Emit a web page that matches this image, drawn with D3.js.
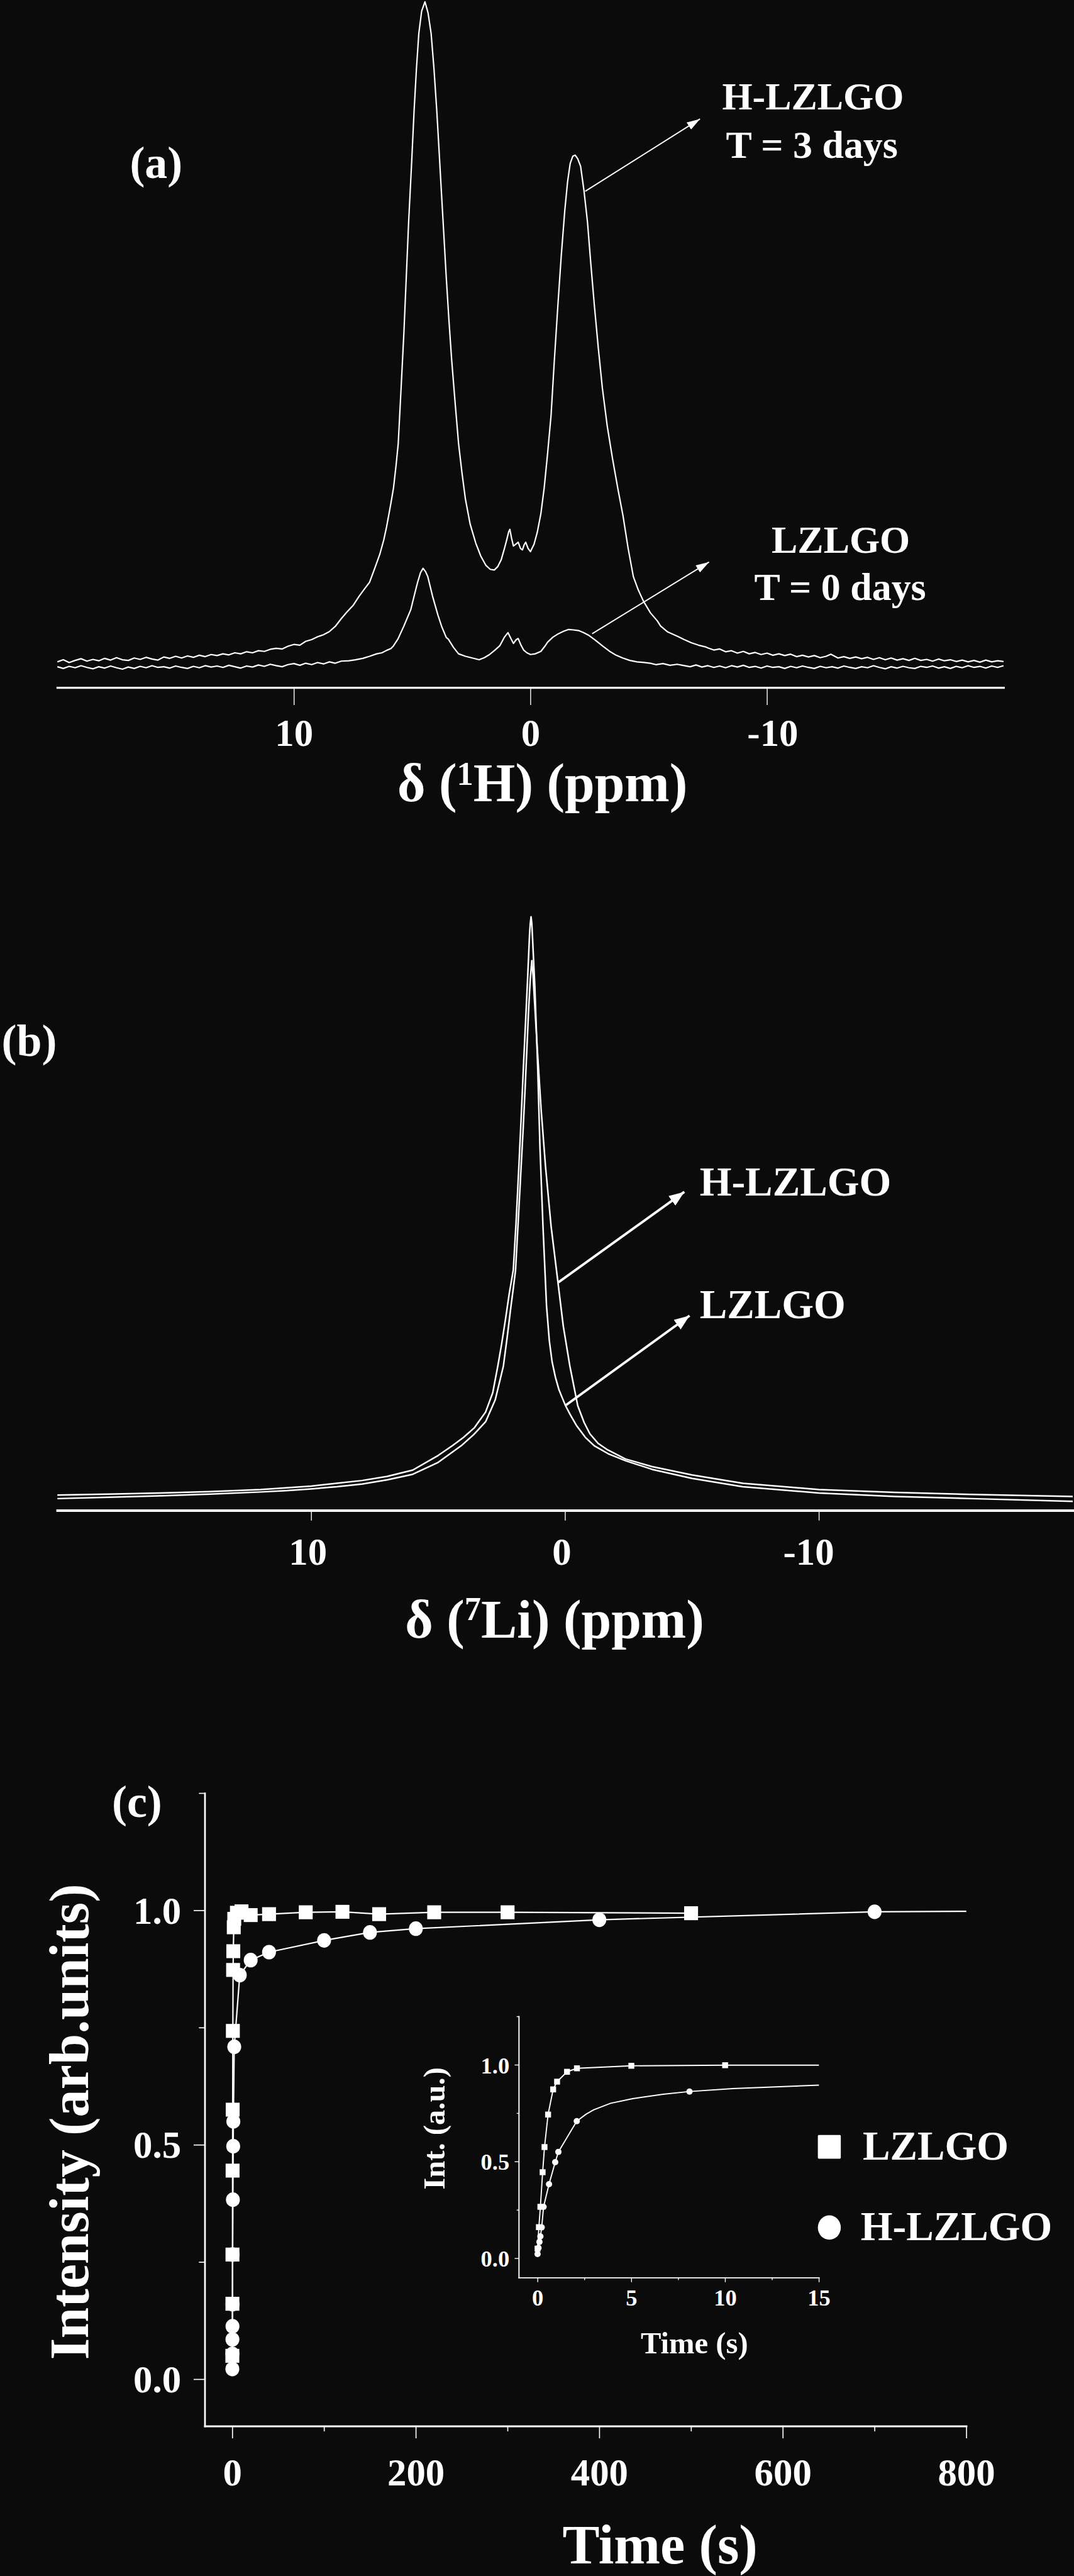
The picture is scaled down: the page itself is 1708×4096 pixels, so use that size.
<!DOCTYPE html>
<html><head><meta charset="utf-8">
<script src="https://cdn.jsdelivr.net/npm/d3@7"></script>
<style>body{margin:0;background:#0b0b0b}svg{display:block}</style>
</head><body>
<script>
// ---------- DATA ----------
// Panel (a): 1H MAS NMR, [ppm, intensity (a.u.)]
const specA_H = [
[20,74],[19.75,80],[19.5,72],[19.25,78],[19,83],[18.75,76],[18.5,81],[18.25,77],[18,84],[17.75,79],[17.5,86],[17.25,80],[17,78],[16.75,85],[16.5,81],[16.25,87],[16,82],[15.75,79],[15.5,88],[15.25,84],[15,90],[14.75,85],[14.5,91],[14.25,87],[14,93],[13.75,89],[13.5,95],[13.25,92],[13,97],[12.75,94],[12.5,100],[12.25,97],[12,103],[11.75,100],[11.5,106],[11.25,104],[11,110],[10.75,113],[10.5,111],[10.25,119],[10,124],[9.75,122],[9.5,133],[9.25,138],[9,146],[8.75,152],[8.5,161],[8.25,176],[8,198],[7.75,218],[7.5,236],[7.25,262],[7,285],[6.8,303],[6.6,340],[6.37,383],[6.2,425],[6.08,463],[5.9,530],[5.79,574],[5.68,640],[5.59,702],[5.47,860],[5.35,1021],[5.25,1180],[5.15,1339],[5.03,1500],[4.92,1658],[4.82,1780],[4.72,1881],[4.6,1945],[4.46,1972],[4.33,1940],[4.2,1881],[4.08,1780],[3.96,1658],[3.86,1540],[3.76,1419],[3.66,1300],[3.56,1180],[3.45,1060],[3.33,941],[3.18,815],[3.04,702],[2.9,620],[2.75,542],[2.55,470],[2.31,415],[2.1,378],[1.88,351],[1.7,340],[1.53,338],[1.38,348],[1.24,367],[1.1,400],[1.01,423],[0.92,448],[0.87,455],[0.8,430],[0.72,407],[0.62,412],[0.52,418],[0.42,400],[0.34,396],[0.27,410],[0.2,418],[0.1,400],[0,391],[-0.15,412],[-0.29,447],[-0.44,500],[-0.58,574],[-0.72,670],[-0.87,782],[-1,930],[-1.16,1100],[-1.3,1240],[-1.45,1371],[-1.57,1455],[-1.68,1507],[-1.79,1528],[-1.89,1531],[-2,1520],[-2.12,1499],[-2.26,1430],[-2.41,1339],[-2.55,1220],[-2.7,1100],[-2.87,975],[-3.04,861],[-3.25,750],[-3.48,654],[-3.7,570],[-3.91,495],[-4.13,400],[-4.35,319],[-4.55,282],[-4.78,248],[-5.07,215],[-5.36,192],[-5.5,177],[-5.8,160],[-6.23,147],[-6.5,138],[-6.8,129],[-7.1,122],[-7.4,117],[-7.5,114],[-7.75,108],[-8,111],[-8.25,103],[-8.5,106],[-8.75,99],[-9,104],[-9.25,97],[-9.5,101],[-9.75,95],[-10,99],[-10.25,93],[-10.5,97],[-10.75,92],[-11,96],[-11.25,89],[-11.5,93],[-11.75,88],[-12,92],[-12.25,86],[-12.5,90],[-12.7,96],[-13,85],[-13.25,89],[-13.5,84],[-13.75,88],[-14,83],[-14.25,87],[-14.5,81],[-14.75,86],[-15,80],[-15.25,85],[-15.5,79],[-15.75,83],[-16,78],[-16.25,84],[-16.5,78],[-16.75,81],[-17,76],[-17.25,82],[-17.5,77],[-17.75,80],[-18,75],[-18.25,79],[-18.5,74],[-18.75,78],[-19,73],[-19.25,79],[-19.5,74],[-19.75,77],[-20,75]];
const specA_L = [
[20,60],[19.75,55],[19.5,61],[19.25,57],[19,63],[18.75,58],[18.5,54],[18.25,60],[18,56],[17.75,62],[17.5,57],[17.25,53],[17,59],[16.75,55],[16.5,61],[16.25,57],[16,63],[15.75,58],[15.5,60],[15.25,56],[15,62],[14.75,58],[14.5,55],[14.25,61],[14,57],[13.75,63],[13.5,59],[13.25,62],[13,58],[12.75,64],[12.5,60],[12.25,56],[12,62],[11.75,59],[11.5,65],[11.25,61],[11,67],[10.75,63],[10.5,60],[10.25,66],[10,69],[9.75,64],[9.5,70],[9.25,66],[9,72],[8.75,68],[8.5,74],[8.25,70],[8,76],[7.67,77],[7.4,80],[7.09,84],[6.8,90],[6.5,97],[6.28,100],[6.08,107],[5.9,112],[5.79,120],[5.6,140],[5.35,177],[5.06,224],[4.9,268],[4.77,303],[4.65,330],[4.54,343],[4.44,334],[4.34,319],[4.14,263],[3.91,208],[3.75,175],[3.56,144],[3.47,139],[3.25,115],[3.04,97],[2.75,90],[2.46,85],[2.17,80],[1.95,86],[1.73,95],[1.5,108],[1.3,120],[1.1,145],[0.95,158],[0.82,140],[0.72,127],[0.6,138],[0.52,141],[0.4,122],[0.29,108],[0.15,100],[0,95],[-0.2,97],[-0.44,104],[-0.6,118],[-0.73,131],[-0.95,145],[-1.16,154],[-1.4,162],[-1.6,167],[-1.8,166],[-2.03,164],[-2.25,158],[-2.47,150],[-2.75,136],[-3.04,120],[-3.33,105],[-3.62,93],[-3.9,85],[-4.2,78],[-4.5,74],[-4.8,72],[-5.07,70],[-5.3,66],[-5.6,69],[-5.9,64],[-6.2,67],[-6.5,63],[-6.75,60],[-7,65],[-7.25,59],[-7.5,63],[-7.75,58],[-8,62],[-8.25,57],[-8.5,63],[-8.75,59],[-9,64],[-9.25,58],[-9.5,61],[-9.75,56],[-10,62],[-10.25,58],[-10.5,60],[-10.75,55],[-11,61],[-11.25,57],[-11.5,62],[-11.75,58],[-12,55],[-12.25,61],[-12.5,57],[-12.75,60],[-13,56],[-13.25,62],[-13.5,58],[-13.75,55],[-14,60],[-14.25,57],[-14.5,63],[-14.75,58],[-15,54],[-15.25,60],[-15.5,56],[-15.75,61],[-16,57],[-16.25,55],[-16.5,61],[-16.75,58],[-17,62],[-17.25,56],[-17.5,60],[-17.75,55],[-18,61],[-18.25,57],[-18.5,63],[-18.75,58],[-19,61],[-19.25,56],[-19.5,62],[-19.75,58],[-20,63]];
// Panel (b): 7Li MAS NMR, [ppm, intensity (a.u.)]
const specB_L = [
[20,46],[18,49],[16,52],[14,56],[12,62],[11,67],[10,72],[9,80],[8,88],[7,100],[6,118],[5,160],[4.44,188],[4,212],[3.57,240],[3.13,285],[2.85,340],[2.65,417],[2.5,480],[2.34,555],[2.2,625],[2.04,693],[1.93,830],[1.82,991],[1.73,1130],[1.64,1278],[1.56,1400],[1.49,1508],[1.44,1590],[1.4,1657],[1.37,1690],[1.34,1709],[1.31,1690],[1.28,1646],[1.19,1508],[1.08,1278],[0.99,1049],[0.87,819],[0.73,590],[0.62,490],[0.51,429],[0.38,385],[0.24,349],[0.1,324],[-0.02,303],[-0.2,278],[-0.46,245],[-0.8,212],[-1.15,188],[-1.7,165],[-2.38,145],[-3.43,120],[-5,94],[-7,70],[-10,52],[-13,42],[-16,36],[-20,28]];
const specB_H = [
[20,36],[18,40],[16,44],[14,49],[12,55],[11,59],[10,64],[9,70],[8,78],[7,90],[6,106],[5,140],[4.09,188],[3.6,220],[3.13,257],[2.75,320],[2.43,417],[2.28,500],[2.15,578],[2.04,640],[1.95,693],[1.84,840],[1.73,991],[1.65,1100],[1.57,1221],[1.5,1336],[1.43,1451],[1.37,1530],[1.31,1583],[1.26,1540],[1.21,1474],[1.08,1313],[0.94,1152],[0.77,991],[0.55,819],[0.29,664],[0.07,532],[-0.19,417],[-0.5,303],[-0.75,255],[-0.98,222],[-1.3,195],[-1.68,176],[-2.38,150],[-3.43,128],[-5,104],[-7,80],[-10,62],[-13,54],[-16,48],[-20,42]];
const ticksPPM = [10, 0, -10];
// Panel (c): saturation recovery
const tLZLGO = [0.0,0.07,0.15,0.27,0.37,0.56,0.83,1.04,1.57,2.1,5,10,20,40,80,120,160,220,300,500];
const vLZLGO = [0.05,0.161,0.266,0.445,0.575,0.743,0.873,0.913,0.964,0.982,0.995,0.998,0.99,0.992,0.996,0.997,0.992,0.996,0.996,0.994];
const tHLZLGO = [0.0,0.05,0.1,0.15,0.22,0.32,0.61,0.94,1.11,2.09,8.1,20,40,100,150,200,400,700];
const vHLZLGO = [0.022,0.054,0.085,0.113,0.16,0.266,0.383,0.497,0.55,0.709,0.862,0.894,0.911,0.936,0.953,0.961,0.98,0.997];
const fitHmainEnd = [[800, 0.998]];
const fitLinsetEnd = [[15, 0.998]];
const fitHinset = [[2.59,0.745],[3.0,0.768],[3.89,0.801],[5.07,0.825],[6.69,0.848],[8.1,0.862],[10.4,0.877],[15,0.895]];
const ticksTime = [0,200,400,600,800], minorTime = [100,300,500,700];
const ticksInt = [0,0.5,1], minorInt = [0.25,0.75,1.25];
const ticksTimeIn = [0,5,10,15], minorTimeIn = [2.5,7.5,12.5];
const legendNames = ["LZLGO","H-LZLGO"];

// ---------- DRAW ----------
const FONT = "'Liberation Serif','Times New Roman',Times,serif";
const WHITE = "#ffffff";
const svg = d3.select("body").append("svg").attr("width",1708).attr("height",4096);
svg.append("rect").attr("width",1708).attr("height",4096).attr("fill","#0b0b0b");
const defs = svg.append("defs");
function mk(id, len, wid){
  defs.append("marker").attr("id",id).attr("viewBox",`0 0 ${len} ${wid}`)
    .attr("refX",len).attr("refY",wid/2).attr("markerWidth",len).attr("markerHeight",wid)
    .attr("markerUnits","userSpaceOnUse").attr("orient","auto")
    .append("path").attr("d",`M0,0L${len},${wid/2}L0,${wid}Z`).attr("fill",WHITE);
}
const g = svg.append("g").attr("transform","scale(0.553)")
  .attr("font-family",FONT).attr("font-weight","bold").attr("fill",WHITE);

function txt(x,y,s,size,anchor){
  return g.append("text").attr("x",x).attr("y",y).attr("font-size",size)
    .attr("text-anchor",anchor||"middle").attr("fill",WHITE).text(s);
}
function styleAxis(ax, domW, tickW, fs){
  ax.attr("color",WHITE).attr("font-family",FONT).attr("font-weight","bold").attr("font-size",fs);
  ax.select(".domain").attr("stroke-width",domW).attr("stroke-linecap","square");
  ax.selectAll(".tick line").attr("stroke-width",tickW);
}
const path = (sel, data, x, y, w) => sel.append("path").datum(data)
  .attr("d", d3.line().x(d=>x(d[0])).y(d=>y(d[1])))
  .attr("fill","none").attr("stroke",WHITE).attr("stroke-width",w)
  .attr("stroke-linejoin","round");

// ---- Panel (a)
const xa = d3.scaleLinear().domain([20,-20]).range([165,2886]);
const ya = d3.scaleLinear().domain([0,1977]).range([1977,0]);
path(g, specA_L, xa, ya, 4);
path(g, specA_H, xa, ya, 4);
const axA = g.append("g").attr("transform","translate(0,1977)")
  .call(d3.axisBottom(xa).tickValues(ticksPPM).tickSize(50).tickSizeOuter(0).tickFormat(d=>String(d)));
styleAxis(axA, 6, 2.5, 110);
axA.selectAll(".tick text").attr("y",168).attr("dy",null).attr("dx",d=>d<0?16:0);
const la = txt(1560,2304,"",155);
la.append("tspan").text("δ (");
la.append("tspan").attr("font-size",95).attr("dy",-48).text("1");
la.append("tspan").attr("dy",48).text("H) (ppm)");
txt(449,511,"(a)",130);
txt(2338,315,"H-LZLGO",112); txt(2335,454,"T = 3 days",112);
txt(2418,1589,"LZLGO",112); txt(2416,1725,"T = 0 days",112);
mk("ha",38,24);
g.append("line").attr("x1",1683).attr("y1",550).attr("x2",2013).attr("y2",342)
  .attr("stroke",WHITE).attr("stroke-width",3.5).attr("marker-end","url(#ha)");
g.append("line").attr("x1",1703).attr("y1",1822).attr("x2",2039).attr("y2",1616)
  .attr("stroke",WHITE).attr("stroke-width",3.5).attr("marker-end","url(#ha)");

// ---- Panel (b)
const xb = d3.scaleLinear().domain([20,-20]).range([165,3085]);
const yb = d3.scaleLinear().domain([0,1845]).range([4345,2500]);
path(g, specB_L, xb, yb, 4.5);
path(g, specB_H, xb, yb, 4.5);
const axB = g.append("g").attr("transform","translate(0,4343)")
  .call(d3.axisBottom(xb).tickValues(ticksPPM).tickSize(29).tickSizeOuter(0).tickFormat(d=>String(d)));
styleAxis(axB, 7, 2.5, 110);
axB.selectAll(".tick text").attr("y",156).attr("dy",null).attr("dx",d=>d<0?-30:-10);
const lb = txt(1595,4708,"",155);
lb.append("tspan").text("δ (");
lb.append("tspan").attr("font-size",95).attr("dy",-50).text("7");
lb.append("tspan").attr("dy",50).text("Li) (ppm)");
txt(84,3036,"(b)",130);
txt(2012,3437,"H-LZLGO",118,"start");
txt(2012,3790,"LZLGO",118,"start");
mk("hb",44,34);
g.append("line").attr("x1",1606).attr("y1",3687).attr("x2",1968).attr("y2",3427)
  .attr("stroke",WHITE).attr("stroke-width",7).attr("marker-end","url(#hb)");
g.append("line").attr("x1",1625).attr("y1",4042).attr("x2",1983).attr("y2",3783)
  .attr("stroke",WHITE).attr("stroke-width",7).attr("marker-end","url(#hb)");

// ---- Panel (c) main
const xc = d3.scaleLinear().domain([-30,800]).range([589,2779]);
const yc = d3.scaleLinear().domain([-0.1,1.25]).range([6976,5156]);
const dataL = tLZLGO.map((t,i)=>[t,vLZLGO[i]]);
const dataH = tHLZLGO.map((t,i)=>[t,vHLZLGO[i]]);
const axCy = g.append("g").attr("transform","translate(589,0)")
  .call(d3.axisLeft(yc).tickValues(ticksInt).tickSize(32).tickSizeOuter(0).tickPadding(36).tickFormat(d3.format(".1f")));
styleAxis(axCy, 5, 3, 110);
axCy.selectAll(".tick text").attr("dy","0.34em");
g.append("g").attr("transform","translate(589,0)")
  .call(d3.axisLeft(yc).tickValues(minorInt).tickSize(17).tickSizeOuter(0).tickFormat(""))
  .call(a=>{styleAxis(a,5,3,10); a.select(".domain").remove();});
const axCx = g.append("g").attr("transform","translate(0,6976)")
  .call(d3.axisBottom(xc).tickValues(ticksTime).tickSize(35).tickSizeOuter(0).tickFormat(d=>String(d)));
styleAxis(axCx, 5, 3, 110);
axCx.selectAll(".tick text").attr("y",171).attr("dy",null);
g.append("g").attr("transform","translate(0,6976)")
  .call(d3.axisBottom(xc).tickValues(minorTime).tickSize(15).tickSizeOuter(0).tickFormat(""))
  .call(a=>{styleAxis(a,5,3,10); a.select(".domain").remove();});
path(g, dataL, xc, yc, 4);
path(g, dataH.concat(fitHmainEnd), xc, yc, 4);
const sq = d3.symbol().type(d3.symbolSquare);
g.selectAll(".sqm").data(dataL).join("path").attr("class","sqm")
  .attr("transform",d=>`translate(${xc(d[0])},${yc(d[1])})`).attr("d",sq.size(40*40)()).attr("fill",WHITE);
g.selectAll(".cim").data(dataH).join("ellipse").attr("class","cim")
  .attr("cx",d=>xc(d[0])).attr("cy",d=>yc(d[1])).attr("rx",20).attr("ry",21).attr("fill",WHITE);
txt(1898,7371,"Time (s)",160);
g.append("text").attr("transform","translate(253,6101) rotate(-90)").attr("text-anchor","middle")
  .attr("font-size",160).attr("fill",WHITE).text("Intensity (arb.units)");
txt(394,5224,"(c)",130);
// legend
g.append("rect").attr("x",2352).attr("y",6139).attr("width",66).attr("height",68).attr("rx",3).attr("fill",WHITE);
g.append("ellipse").attr("cx",2385).attr("cy",6405).attr("rx",33).attr("ry",35).attr("fill",WHITE);
txt(2481,6209,legendNames[0],118,"start");
txt(2475,6441,legendNames[1],118,"start");

// ---- Inset
const xi = d3.scaleLinear().domain([-1,15]).range([1492,2355]);
const yi = d3.scaleLinear().domain([-0.1,1.25]).range([6549,5798]);
const axIy = g.append("g").attr("transform","translate(1492,0)")
  .call(d3.axisLeft(yi).tickValues(ticksInt).tickSize(12).tickSizeOuter(0).tickPadding(15).tickFormat(d3.format(".1f")));
styleAxis(axIy, 3.5, 2.5, 66);
axIy.selectAll(".tick text").attr("dy","0.36em");
g.append("g").attr("transform","translate(1492,0)")
  .call(d3.axisLeft(yi).tickValues(minorInt).tickSize(6).tickSizeOuter(0).tickFormat(""))
  .call(a=>{styleAxis(a,3.5,2.5,10); a.select(".domain").remove();});
const axIx = g.append("g").attr("transform","translate(0,6549)")
  .call(d3.axisBottom(xi).tickValues(ticksTimeIn).tickSize(13).tickSizeOuter(0).tickFormat(d=>String(d)));
styleAxis(axIx, 3.5, 2.5, 66);
axIx.selectAll(".tick text").attr("y",81).attr("dy",null);
g.append("g").attr("transform","translate(0,6549)")
  .call(d3.axisBottom(xi).tickValues(minorTimeIn).tickSize(7).tickSizeOuter(0).tickFormat(""))
  .call(a=>{styleAxis(a,3.5,2.5,10); a.select(".domain").remove();});
const inL = dataL.filter(d=>d[0]<=15), inH = dataH.filter(d=>d[0]<=2.1);
path(g, inL.concat(fitLinsetEnd), xi, yi, 3.5);
path(g, inH.concat(fitHinset), xi, yi, 3.5);
g.selectAll(".sqi").data(inL).join("path").attr("class","sqi")
  .attr("transform",d=>`translate(${xi(d[0])},${yi(d[1])})`).attr("d",sq.size(17*17)()).attr("fill",WHITE);
g.selectAll(".cii").data(dataH.filter(d=>d[0]<=15)).join("circle").attr("class","cii")
  .attr("cx",d=>xi(d[0])).attr("cy",d=>yi(d[1])).attr("r",9).attr("fill",WHITE);
txt(1997,6766,"Time (s)",88);
g.append("text").attr("transform","translate(1278,6120) rotate(-90)").attr("text-anchor","middle")
  .attr("font-size",88).attr("fill",WHITE).text("Int. (a.u.)");
</script>
</body></html>
